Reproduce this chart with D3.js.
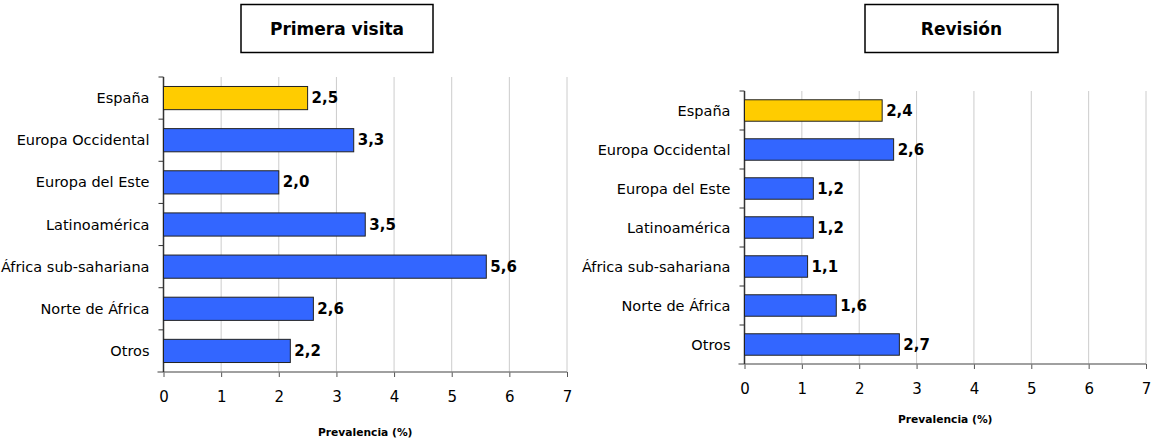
<!DOCTYPE html>
<html>
<head>
<meta charset="utf-8">
<script src="https://cdn.jsdelivr.net/npm/d3@7"></script>
<style>
  body { margin: 0; background: #fff; }
  svg text { font-family: "DejaVu Sans", Verdana, sans-serif; }
</style>
</head>
<body>
<div id="viz"></div>
<script>
//Datos
const regiones = ['España', 'Europa Occidental', 'Europa del Este', 'Latinoamérica', 'África sub-sahariana', 'Norte de África', 'Otros'];
const primeraVisita = [2.5, 3.3, 2.0, 3.5, 5.6, 2.6, 2.2];
const revision = [2.4, 2.6, 1.2, 1.2, 1.1, 1.6, 2.7];
const ticksX = [0, 1, 2, 3, 4, 5, 6, 7];
const titulos = ['Primera visita', 'Revisión'];
const ejeTitulo = 'Prevalencia (%)';

//Colores
const COLOR_ESP = '#FFCC00', COLOR_RESTO = '#3366FF', COLOR_GRID = '#cccccc';

let svg = d3.select('#viz').append('svg')
    .attr('width', 1153)
    .attr('height', 439);

let paneles = [
    {titulo: titulos[0], valores: primeraVisita, x0: 163.5, x1: 567, y0: 77, y1: 372, box: [241, 433], tituloY: 432},
    {titulo: titulos[1], valores: revision, x0: 744.5, x1: 1146, y0: 91, y1: 364, box: [865, 1058], tituloY: 419}
];

paneles.forEach(function(p) {
    let g = svg.append('g');

    let x = d3.scaleLinear().domain([0, 7]).range([p.x0, p.x1]);
    let y = d3.scaleBand().domain(regiones).range([p.y0, p.y1]).paddingInner(0.45).paddingOuter(0.225);

    //Titulo
    g.append('rect')
        .attr('x', p.box[0]).attr('y', 4.5)
        .attr('width', p.box[1] - p.box[0]).attr('height', 48)
        .attr('fill', '#fff').attr('stroke', '#000').attr('stroke-width', 1.5);
    g.append('text')
        .attr('x', (p.box[0] + p.box[1]) / 2).attr('y', 29)
        .attr('text-anchor', 'middle').attr('dominant-baseline', 'central')
        .style('font-size', '17px').style('font-weight', 'bold')
        .text(p.titulo);

    //Rejilla
    g.selectAll('.grid')
        .data(ticksX.slice(1))
        .enter().append('line')
        .attr('x1', d => x(d)).attr('x2', d => x(d))
        .attr('y1', p.y0).attr('y2', p.y1)
        .attr('stroke', COLOR_GRID).attr('stroke-width', 1);

    //Eje X
    let xAxis = g.append('g')
        .attr('transform', 'translate(0,' + p.y1 + ')')
        .call(d3.axisBottom(x).tickValues(ticksX).tickFormat(d3.format('d')).tickSize(5).tickPadding(14));
    xAxis.select('.domain').remove();
    xAxis.selectAll('.tick line').attr('stroke', '#555');
    xAxis.selectAll('text').style('font-size', '15px').attr('fill', '#000')
        .style('font-family', '"DejaVu Sans", sans-serif');
    g.append('line')
        .attr('x1', p.x0 - 6).attr('x2', p.x1)
        .attr('y1', p.y1).attr('y2', p.y1)
        .attr('stroke', '#808080').attr('stroke-width', 1.5);

    //Eje Y
    let bounds = regiones.map(function(d, i) { return p.y0 + i * (p.y1 - p.y0) / regiones.length; });
    g.selectAll('.ytick')
        .data(bounds)
        .enter().append('line')
        .attr('x1', p.x0 - 5).attr('x2', p.x0)
        .attr('y1', d => d).attr('y2', d => d)
        .attr('stroke', '#333');
    g.append('line')
        .attr('x1', p.x0).attr('x2', p.x0)
        .attr('y1', p.y0).attr('y2', p.y1)
        .attr('stroke', '#333').attr('stroke-width', 1.5);

    g.selectAll('.cat')
        .data(regiones)
        .enter().append('text')
        .attr('x', p.x0 - 14)
        .attr('y', d => y(d) + y.bandwidth() / 2)
        .attr('text-anchor', 'end').attr('dominant-baseline', 'central')
        .style('font-size', '14.5px')
        .text(d => d);

    //Barras
    let datos = regiones.map(function(d, i) { return {region: d, valor: p.valores[i]}; });
    g.selectAll('.bar')
        .data(datos)
        .enter().append('rect')
        .attr('x', x(0))
        .attr('y', d => y(d.region))
        .attr('width', d => x(d.valor) - x(0))
        .attr('height', y.bandwidth())
        .attr('fill', d => d.region == 'España' ? COLOR_ESP : COLOR_RESTO)
        .attr('stroke', '#222').attr('stroke-width', 1);

    g.selectAll('.val')
        .data(datos)
        .enter().append('text')
        .attr('x', d => x(d.valor) + 4)
        .attr('y', d => y(d.region) + y.bandwidth() / 2)
        .attr('dominant-baseline', 'central')
        .style('font-size', '15px').style('font-weight', 'bold')
        .text(d => d.valor.toFixed(1).replace('.', ','));

    //Titulo eje
    g.append('text')
        .attr('x', (p.x0 + p.x1) / 2).attr('y', p.tituloY)
        .attr('text-anchor', 'middle').attr('dominant-baseline', 'central')
        .style('font-size', '10.7px').style('font-weight', 'bold')
        .text(ejeTitulo);
});
</script>
</body>
</html>
